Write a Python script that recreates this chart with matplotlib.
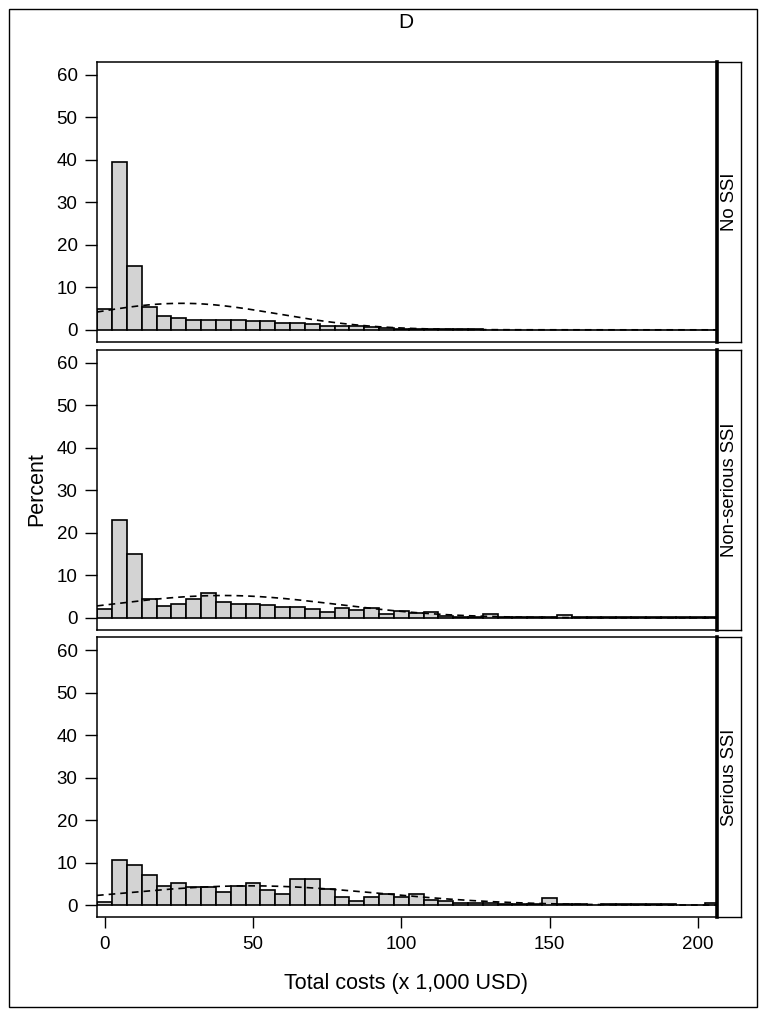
import numpy as np
import matplotlib
matplotlib.use("Agg")
from matplotlib import pyplot as plt
from matplotlib.patches import Rectangle

plt.rcParams['font.family'] = ['Liberation Sans', 'DejaVu Sans']

# bin centres (x 1,000 USD), bin width 5
bin_width = 5
bins = np.arange(0, 210, 5)

panel_names = ["No SSI", "Non-serious SSI", "Serious SSI"]

# percent per bin
no_ssi = [4.9, 39.5, 15.0, 5.3, 3.2, 2.7, 2.4, 2.4, 2.3, 2.2, 2.1,
          2.0, 1.6, 1.5, 1.3, 1.0, 0.8, 0.8, 0.7, 0.5, 0.3, 0.2,
          0.15, 0.1, 0.1, 0.08, 0.06, 0.05, 0.05, 0.04, 0.04, 0.03,
          0.03, 0.03, 0.02, 0.02, 0.02, 0.02, 0.02, 0.02, 0.02, 0.02]
non_serious = [2.0, 22.9, 15.1, 4.5, 2.7, 3.3, 4.5, 5.9, 3.8, 3.2, 3.2,
               2.9, 2.6, 2.6, 2.0, 1.3, 2.3, 1.9, 2.35, 1.0, 1.7, 1.2,
               1.3, 0.5, 0.2, 0.3, 0.95, 0.15, 0.1, 0.1, 0.1, 0.7,
               0.1, 0.2, 0.1, 0.1, 0.1, 0.1, 0.1, 0.2, 0.1, 0.1]
serious = [0.7, 10.5, 9.5, 7.2, 4.6, 5.3, 4.3, 4.2, 3.1, 4.6, 5.3,
           3.5, 2.5, 6.2, 6.2, 3.8, 2.0, 0.9, 2.0, 2.5, 2.0, 2.7,
           1.25, 1.0, 0.6, 0.6, 0.6, 0.3, 0.15, 0.15, 1.7, 0.2,
           0.2, 0.1, 0.3, 0.3, 0.2, 0.3, 0.3, 0.1, 0.1, 0.5]
series = [no_ssi, non_serious, serious]

# normal curve overlay: mean and sd
curve_mean = [26, 40, 49]
curve_sd = [32, 38, 44]

fig = plt.figure(figsize=(7.68, 10.18), dpi=100)
W, H = 768.0, 1018.0

left, right = 97, 716.5
strip_r = 741
tops = [62, 350, 637.3]
ph = 279.5

fig.patches.append(Rectangle((9 / W, 1 - 1007 / H), 748 / W, 998 / H,
                             transform=fig.transFigure, fill=False,
                             edgecolor='black', linewidth=1.0))

xs = np.linspace(-2.6, 206.3, 400)
for i in range(3):
    top = tops[i]
    sax = fig.add_axes([right / W, 1 - (top + ph) / H, (strip_r - right) / W, ph / H])
    sax.set_xticks([])
    sax.set_yticks([])
    for sp in sax.spines.values():
        sp.set_linewidth(1.0)
    sax.spines['left'].set_visible(False)
    sax.text(0.55, 0.5, panel_names[i], rotation=90, ha='center', va='center',
             fontsize=13.3, transform=sax.transAxes)

    ax = fig.add_axes([left / W, 1 - (top + ph) / H, (right - left) / W, ph / H])
    ax.bar(bins, series[i], width=bin_width, color='#d3d3d3',
           edgecolor='black', linewidth=1.2, zorder=2)
    m, s = curve_mean[i], curve_sd[i]
    ys = 100 * bin_width * np.exp(-0.5 * ((xs - m) / s) ** 2) / (s * np.sqrt(2 * np.pi))
    ax.plot(xs, ys, color='black', linewidth=1.2, linestyle=(0, (4, 3)), zorder=3)
    ax.set_xlim(-2.6, 206.3)
    ax.set_ylim(-2.75, 63)
    ax.set_yticks([0, 10, 20, 30, 40, 50, 60])
    ax.tick_params(axis='y', length=9, width=1.0, pad=5, labelsize=13.5)
    for sp in ax.spines.values():
        sp.set_linewidth(1.1)
    ax.spines['right'].set_linewidth(2.6)
    if i < 2:
        ax.set_xticks([])
    else:
        ax.set_xticks([0, 50, 100, 150, 200])
        ax.tick_params(axis='x', length=8, width=1.0, pad=6, labelsize=13.5)

fig.text(406 / W, 1 - 22 / H, "D", ha='center', va='center', fontsize=15)
fig.text(37 / W, 1 - 489 / H, "Percent", rotation=90, ha='center', va='center', fontsize=15.5)
fig.text(406 / W, 1 - 983 / H, "Total costs (x 1,000 USD)", ha='center', va='center', fontsize=15.5)

fig.savefig("out.png", dpi=100)
